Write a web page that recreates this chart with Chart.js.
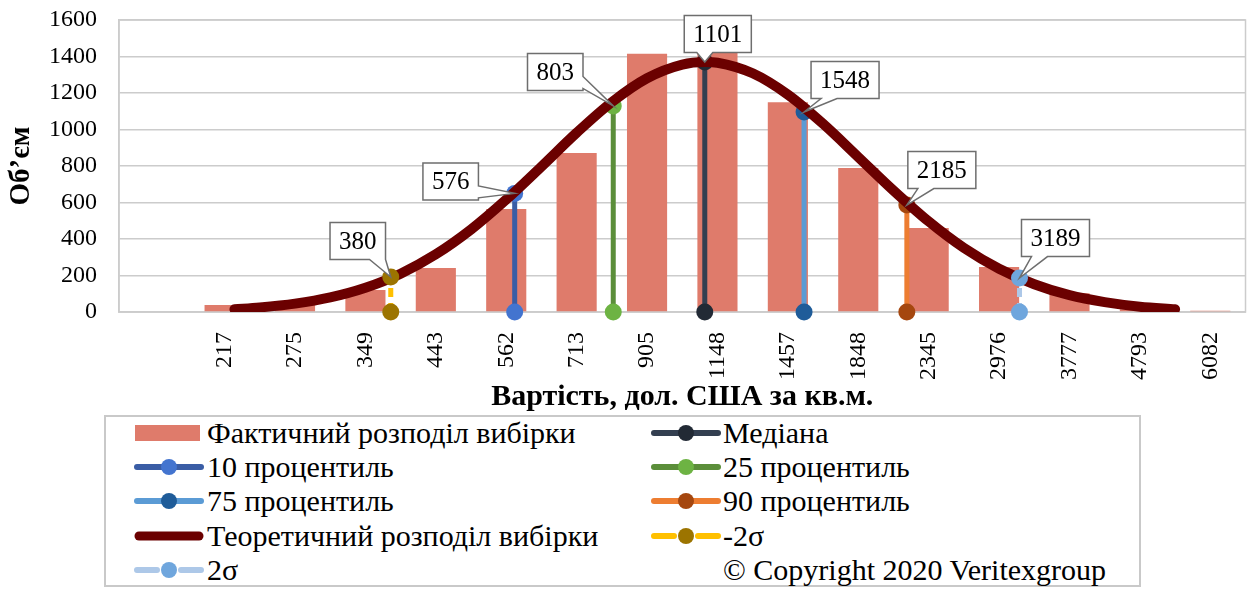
<!DOCTYPE html>
<html>
<head>
<meta charset="utf-8">
<script src="https://cdn.jsdelivr.net/npm/chart.js@4.4.1/dist/chart.umd.min.js"></script>
<style>
  html, body { margin: 0; padding: 0; background: #fff; }
  #wrap { position: relative; width: 1254px; height: 589px; background: #fff; overflow: hidden; font-family: 'Liberation Serif', 'Times New Roman', serif; }
  #chartBox { position: absolute; left: 0; top: 0; width: 1254px; height: 415px; }
  #legendBox { position: absolute; left: 104px; top: 415px; width: 1033px; height: 168px; border: 2px solid #c9c9c9; }
  .lg { position: absolute; height: 34px; display: flex; align-items: center; }
  .lg span { font-size: 30px; color: #000; white-space: nowrap; line-height: 34px; }
  .lg canvas { display: block; }
</style>
</head>
<body>
<div id="wrap">
  <div id="chartBox"><canvas id="c"></canvas></div>
  <div id="legendBox"></div>
</div>
<script>
// ---------------- data ----------------
const categories = ['', '217', '275', '349', '443', '562', '713', '905', '1148', '1457', '1848', '2345', '2976', '3777', '4793', '6082'];
const actualCounts = [null, 38, 60, 120, 241, 564, 871, 1415, 1420, 1150, 789, 460, 246, 103, 15, 7];

const curveX = [1.14, 1.5, 2, 2.5, 3, 3.5, 4, 4.5, 5, 5.5, 6, 6.5, 7, 7.5, 7.82, 8, 8.5, 9, 9.5, 10, 10.5, 11, 11.5, 12, 12.5, 13, 13.5, 14, 14.5];
const curveY = [15, 25, 46, 80, 133, 210, 316, 452, 616, 797, 982, 1150, 1281, 1356, 1370, 1366, 1308, 1191, 1031, 849, 666, 496, 351, 237, 152, 92, 54, 29, 15];

const markerNames = ['Медіана', '10 процентиль', '25 процентиль', '75 процентиль', '90 процентиль', '-2σ', '2σ'];
const markerValues = [1101, 576, 803, 1548, 2185, 380, 3189];
const markerPos = [7.82, 5.12, 6.52, 9.23, 10.69, 3.36, 12.29];
const markerHeight = [1370, 650, 1129, 1096, 586, 192, 186];

const barName = 'Фактичний розподіл вибірки';
const curveName = 'Теоретичний розподіл вибірки';
const copyrightText = '© Copyright 2020 Veritexgroup';
const xTitle = 'Вартість, дол. США за кв.м.';
const yTitle = 'Об’єм';

// ---------------- styles ----------------
const markerLineColors = ['#333F50', '#3A5DA5', '#5B8E3A', '#5B9BD5', '#ED7D31', '#FFC000', '#ADC8E8'];
const markerPointColors = ['#222A35', '#4374CF', '#6DB343', '#1F5C99', '#A5470F', '#9C7400', '#6FA6DD'];
const markerDashed = [false, false, false, false, false, true, true];
const markerOrder = [5, 5, 5, 5, 5, 1, 1];
const calloutOffsets = [[13, -28], [-64, -12], [-58, -34], [41, -32], [35, -35], [-33, -36], [36, -40]];
const barColor = '#DF7B6B';
const curveColor = '#6B0000';
const FONT = "'Liberation Serif', 'Times New Roman', serif";

// ---------------- datasets ----------------
const datasets = [];
datasets.push({
  type: 'bar', label: barName, order: 10,
  data: actualCounts.map((v, i) => ({ x: i, y: v })).filter(p => p.y !== null),
  backgroundColor: barColor, borderWidth: 0,
  categoryPercentage: 1, barPercentage: 0.57
});
datasets.push({
  type: 'line', label: curveName, order: 3,
  data: curveX.map((x, i) => ({ x: x, y: curveY[i] })),
  borderColor: curveColor, borderWidth: 10, pointRadius: 0, fill: false,
  cubicInterpolationMode: 'monotone', borderCapStyle: 'round', borderJoinStyle: 'round'
});
markerNames.forEach((name, k) => {
  datasets.push({
    type: 'line', label: name, order: markerOrder[k],
    data: [{ x: markerPos[k], y: 0 }, { x: markerPos[k], y: markerHeight[k] }],
    borderColor: markerLineColors[k], borderWidth: 5,
    borderDash: markerDashed[k] ? [9, 6] : [],
    pointRadius: 8.5, pointBackgroundColor: markerPointColors[k], pointBorderColor: markerPointColors[k], pointBorderWidth: 0,
    fill: false, tension: 0, clip: false,
    calloutIndex: k
  });
});

// ---------------- plugins ----------------
const frame = {
  id: 'frame',
  beforeDatasetsDraw(chart) {
    const { ctx, chartArea: a } = chart;
    ctx.save();
    ctx.strokeStyle = '#cccccc';
    ctx.lineWidth = 1.5;
    ctx.strokeRect(a.left, a.top, a.right - a.left, a.bottom - a.top);
    ctx.restore();
  }
};

function bubblePath(ctx, l, t, w, h, px, py) {
  const r = l + w, b = t + h;
  const cx = Math.min(Math.max(px, l), r), cy = Math.min(Math.max(py, t), b);
  const dx = px - cx, dy = py - cy;
  const side = (Math.abs(dx) > Math.abs(dy)) ? (dx > 0 ? 'right' : 'left') : (dy > 0 ? 'bottom' : 'top');
  ctx.beginPath();
  ctx.moveTo(l, t);
  ctx.lineTo(r, t);
  if (side === 'right') {
    const m = Math.min(Math.max(py, t + 10), b - 8);
    ctx.lineTo(r, m - 6); ctx.lineTo(px, py); ctx.lineTo(r, m + 6);
  }
  ctx.lineTo(r, b);
  if (side === 'bottom') {
    const m = Math.min(Math.max(px, l + 18), r - 8);
    ctx.lineTo(m + 8, b); ctx.lineTo(px, py); ctx.lineTo(m - 8, b);
  }
  ctx.lineTo(l, b);
  if (side === 'left') {
    const m = Math.min(Math.max(py, t + 10), b - 8);
    ctx.lineTo(l, m + 6); ctx.lineTo(px, py); ctx.lineTo(l, m - 6);
  }
  ctx.closePath();
}

const callouts = {
  id: 'callouts',
  afterDatasetsDraw(chart) {
    const { ctx } = chart;
    ctx.save();
    ctx.font = '25px ' + FONT;
    chart.data.datasets.forEach((ds, di) => {
      if (ds.calloutIndex === undefined) return;
      const k = ds.calloutIndex;
      const meta = chart.getDatasetMeta(di);
      const pt = meta.data[1];
      const px = pt.x, py = pt.y;
      const txt = String(markerValues[k]);
      const tw = ctx.measureText(txt).width;
      const w = tw + 18, h = 37;
      const cx = px + calloutOffsets[k][0], cy = py + calloutOffsets[k][1];
      const l = cx - w / 2, t = cy - h / 2;
      bubblePath(ctx, l, t, w, h, px, py);
      ctx.fillStyle = '#ffffff';
      ctx.fill();
      ctx.strokeStyle = '#6e6e6e';
      ctx.lineWidth = 1.5;
      ctx.stroke();
      ctx.fillStyle = '#000';
      ctx.textAlign = 'center';
      ctx.textBaseline = 'middle';
      ctx.fillText(txt, cx, cy + 1);
    });
    ctx.restore();
  }
};

// ---------------- chart ----------------
const chart = new Chart(document.getElementById('c'), {
  type: 'bar',
  data: { datasets: datasets },
  options: {
    responsive: true, maintainAspectRatio: false, animation: false,
    layout: { padding: { top: 6, right: 4, left: 0, bottom: 0 } },
    plugins: { legend: { display: false }, tooltip: { enabled: false } },
    scales: {
      x: {
        type: 'linear', min: -0.5, max: 15.5, offset: false,
        afterBuildTicks(scale) { scale.ticks = categories.map((_, i) => ({ value: i })); },
        afterFit(scale) { scale.height = 103; scale.paddingLeft = 0; scale.paddingRight = 0; },
        ticks: {
          autoSkip: false, maxRotation: 90, minRotation: 90, padding: 20,
          color: '#000', font: { family: FONT, size: 24 },
          callback: (v) => categories[v] !== undefined ? categories[v] : ''
        },
        grid: { display: false, drawTicks: false },
        border: { display: true, color: '#cccccc', width: 1.5 },
        title: { display: true, text: xTitle, color: '#000', font: { family: FONT, size: 30, weight: 'bold' }, padding: { top: 0, bottom: 0 } }
      },
      y: {
        min: 0, max: 1600,
        afterFit(scale) { scale.width = 119; scale.paddingTop = 20; scale.paddingBottom = 0; },
        ticks: { stepSize: 200, padding: 22, color: '#000', font: { family: FONT, size: 24 }, callback: (v) => String(v) },
        grid: { color: '#cccccc', lineWidth: 1.5, drawTicks: false },
        border: { display: true, color: '#cccccc', width: 1.5 },
        title: { display: true, text: yTitle, color: '#000', font: { family: FONT, size: 29, weight: 'bold' }, padding: { top: 4, bottom: 0 } }
      }
    }
  },
  plugins: [frame, callouts]
});

// ---------------- legend (HTML) ----------------
const legendBox = document.getElementById('legendBox');
const wrapLeft = 104 + 2, wrapTop = 415 + 2; // inner origin of legend box
const colSym = [133, 650], colText = [207, 723];
const rowY = [433, 467, 501, 536, 570];

function makeSymbol(kind, k) {
  const c = document.createElement('canvas');
  c.width = 72; c.height = 24;
  const g = c.getContext('2d');
  const mid = 12;
  if (kind === 'bar') {
    g.fillStyle = barColor; g.fillRect(2, mid - 8, 65, 16);
  } else if (kind === 'curve') {
    g.strokeStyle = curveColor; g.lineWidth = 9; g.lineCap = 'round';
    g.beginPath(); g.moveTo(6, mid); g.lineTo(66, mid); g.stroke();
  } else {
    g.strokeStyle = markerLineColors[k]; g.lineWidth = 6; g.lineCap = 'round';
    g.beginPath();
    if (markerDashed[k]) {
      g.moveTo(4, mid); g.lineTo(24, mid); g.moveTo(48, mid); g.lineTo(68, mid);
    } else {
      g.moveTo(4, mid); g.lineTo(68, mid);
    }
    g.stroke();
    g.fillStyle = markerPointColors[k];
    g.beginPath(); g.arc(36, mid, 8, 0, Math.PI * 2); g.fill();
  }
  return c;
}

function addItem(col, row, kind, k, text) {
  const y = rowY[row];
  if (kind) {
    const sym = makeSymbol(kind, k);
    sym.style.position = 'absolute';
    sym.style.left = (colSym[col] - wrapLeft) + 'px';
    sym.style.top = (y - 12 - wrapTop) + 'px';
    legendBox.appendChild(sym);
  }
  const d = document.createElement('div');
  d.className = 'lg';
  d.style.left = (colText[col] - wrapLeft) + 'px';
  d.style.top = (y - 17 - wrapTop) + 'px';
  const s = document.createElement('span');
  s.textContent = text;
  d.appendChild(s);
  legendBox.appendChild(d);
}

const legendItems = [
  ['bar', null, barName], ['marker', 0, markerNames[0]],
  ['marker', 1, markerNames[1]], ['marker', 2, markerNames[2]],
  ['marker', 3, markerNames[3]], ['marker', 4, markerNames[4]],
  ['curve', null, curveName], ['marker', 5, markerNames[5]],
  ['marker', 6, markerNames[6]], [null, null, copyrightText]
];
legendItems.forEach((it, i) => addItem(i % 2, Math.floor(i / 2), it[0], it[1], it[2]));
</script>
</body>
</html>
